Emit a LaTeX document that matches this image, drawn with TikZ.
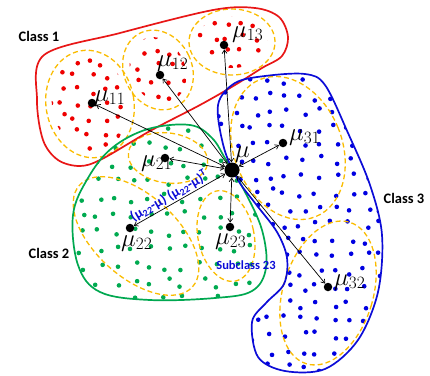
\documentclass[tikz,border=0pt]{standalone}
\usepackage{fontspec}
\newfontfamily\labelfont{Carlito}
\usetikzlibrary{arrows.meta}

\definecolor{cred}{RGB}{232,22,22}
\definecolor{cgreen}{RGB}{0,168,80}
\definecolor{cblue}{RGB}{12,12,215}
\definecolor{cgold}{RGB}{250,188,0}
\definecolor{dred}{RGB}{238,0,0}
\definecolor{dgreen}{RGB}{0,170,80}
\definecolor{dblue}{RGB}{0,0,225}

% jittered grid of points inside the current clip region
\newcommand\gridpts[7]{% colour, x0, x1, y0, y1, step, jitter
  \pgfmathtruncatemacro\gxb{#2+#6}%
  \pgfmathtruncatemacro\gyb{#4+#6}%
  \foreach \gx in {#2,\gxb,...,#3}{%
    \foreach \gy in {#4,\gyb,...,#5}{%
      \pgfmathsetmacro\jx{\gx+#7*rand}%
      \pgfmathsetmacro\jy{\gy+#7*rand}%
      \fill[#1] (\jx,\jy) circle (2.3pt);
    }}}

% points inside a rotated ellipse: cx, cy, angle, rx, ry, colour
\newcommand\ellpts[6]{%
  \begin{scope}
    \clip[shift={(#1,#2)},rotate=#3] (0,0) ellipse [x radius=#4pt-6pt, y radius=#5pt-6pt];
    \pgfmathtruncatemacro\ex{#1-#4-#5}\pgfmathtruncatemacro\eX{#1+#4+#5}%
    \pgfmathtruncatemacro\ey{#2-#4-#5}\pgfmathtruncatemacro\eY{#2+#4+#5}%
    \gridpts{#6}{\ex}{\eX}{\ey}{\eY}{14}{4}
  \end{scope}}

% dashed outline of a subclass: cx, cy, angle, rx, ry
\newcommand\ellline[5]{%
  \draw[subline,shift={(#1,#2)},rotate=#3] (0,0) ellipse [x radius=#4pt, y radius=#5pt];}

\tikzset{
  subline/.style={cgold, line width=1.3pt, dash pattern=on 5pt off 3pt},
  classline/.style={line width=1.7pt},
  meandot/.style={circle, fill=black, inner sep=0pt, minimum size=8.5pt},
  bigdot/.style={circle, fill=black, inner sep=0pt, minimum size=15pt},
  mulabel/.style={anchor=base west, inner sep=0pt, font=\fontsize{25}{25}\selectfont},
  classlabel/.style={font=\labelfont\bfseries\fontsize{14.5}{15}\selectfont},
  bluetext/.style={text=cblue, font=\labelfont\bfseries\fontsize{12.5}{13}\selectfont},
  link/.style={black, line width=0.7pt, {Straight Barb[length=3.5pt,width=5pt]}-{Straight Barb[length=3.5pt,width=5pt]}},
  shapeA/.style={insert path={plot[smooth cycle, tension=0.55] coordinates {
      (44,55) (120,33) (213,10) (255,8) (279,17) (288,37) (282,56) (262,68)
      (235,85) (200,105) (150,131) (102,159) (80,166) (58,160) (43,140) (37,100)}}},
  shapeB/.style={insert path={plot[smooth cycle, tension=0.6] coordinates {
      (73,215) (88,178) (112,148) (148,129) (190,125) (212,138) (226,160)
      (244,190) (262,230) (266,268) (252,291) (215,298) (150,300) (100,292)
      (78,265)}}},
  shapeC/.style={insert path={plot[smooth cycle, tension=0.55] coordinates {
      (218,105) (235,83) (265,76) (305,74) (325,85) (348,133) (370,185)
      (382,235) (378,292) (358,340) (325,369) (285,371) (258,357) (252,322)
      (266,303) (284,284) (287,258) (277,232) (255,203) (238,180) (224,148)}}}
}

\begin{document}
\begin{tikzpicture}[x=1pt, y=-1pt]
\useasboundingbox (0,0) rectangle (430,375);
\pgfmathsetseed{4711}

% ---- sample points ----
\ellpts{90}{104}{10}{44}{54}{dred}
\ellpts{158}{70}{25}{33}{40}{dred}
\ellpts{232}{42}{0}{42}{32}{dred}

\begin{scope}
  \clip[shapeB];
  \gridpts{dgreen}{82}{270}{130}{300}{17}{4.5}
\end{scope}
\begin{scope}
  \clip[shapeC];
  \gridpts{dblue}{222}{385}{80}{372}{16}{4.5}
\end{scope}

% ---- subclass outlines ----
\ellline{90}{104}{10}{44}{54}
\ellline{158}{70}{25}{34}{41}
\ellline{232}{42}{0}{43}{33}
\ellline{168}{158}{-8}{40}{25}
\ellline{136}{236}{-42}{76}{41}
\ellline{226}{236}{12}{28}{46}
\ellline{288}{148}{22}{54}{74}
\ellline{328}{293}{-17}{45}{74}

% ---- class outlines ----
\draw[classline, cred] [shapeA];
\draw[classline, cgreen] [shapeB];
\draw[classline, cblue] [shapeC];

% ---- means ----
\node[bigdot] (mu) at (232,170) {};
\node[meandot] (m11) at (92,103) {};
\node[meandot] (m12) at (160,75) {};
\node[meandot] (m13) at (224,45) {};
\node[meandot] (m21) at (165,158) {};
\node[meandot] (m22) at (130,228) {};
\node[meandot] (m23) at (230,227) {};
\node[meandot] (m31) at (283,143) {};
\node[meandot] (m32) at (328,287) {};

\foreach \m in {m11,m12,m13,m21,m22,m23,m31,m32}
  \draw[link] (mu) -- (\m);

\path (mu) -- (m22) node[pos=0.57, sloped, above=0.5pt, bluetext, inner sep=1pt,
  font=\labelfont\bfseries\fontsize{14}{15}\selectfont]
  (diff) {(μ\textsubscript{22}-μ) (μ\textsubscript{22}-μ)\textsuperscript{T}};

% ---- labels ----
\node[mulabel] (l11) at (94,101) {$\mu_{11}$};
\node[mulabel] (l12) at (157,66) {$\mu_{12}$};
\node[mulabel] (l13) at (232,37) {$\mu_{13}$};
\node[mulabel] (l21) at (141,166) {$\mu_{21}$};
\node[mulabel] (l22) at (121,246) {$\mu_{22}$};
\node[mulabel] (l23) at (215,244) {$\mu_{23}$};
\node[mulabel] (l31) at (289,140) {$\mu_{31}$};
\node[mulabel] (l32) at (334,285) {$\mu_{32}$};
\node[mulabel, font=\fontsize{40}{40}\selectfont] (lmu) at (235,157) {$\mu$};

\node[classlabel] (c1) at (39,36) {Class 1};
\node[classlabel] (c2) at (49,253) {Class 2};
\node[classlabel] (c3) at (404,198) {Class 3};
\node[bluetext] (s23) at (246,265) {Subclass 23};
\end{tikzpicture}
\end{document}
